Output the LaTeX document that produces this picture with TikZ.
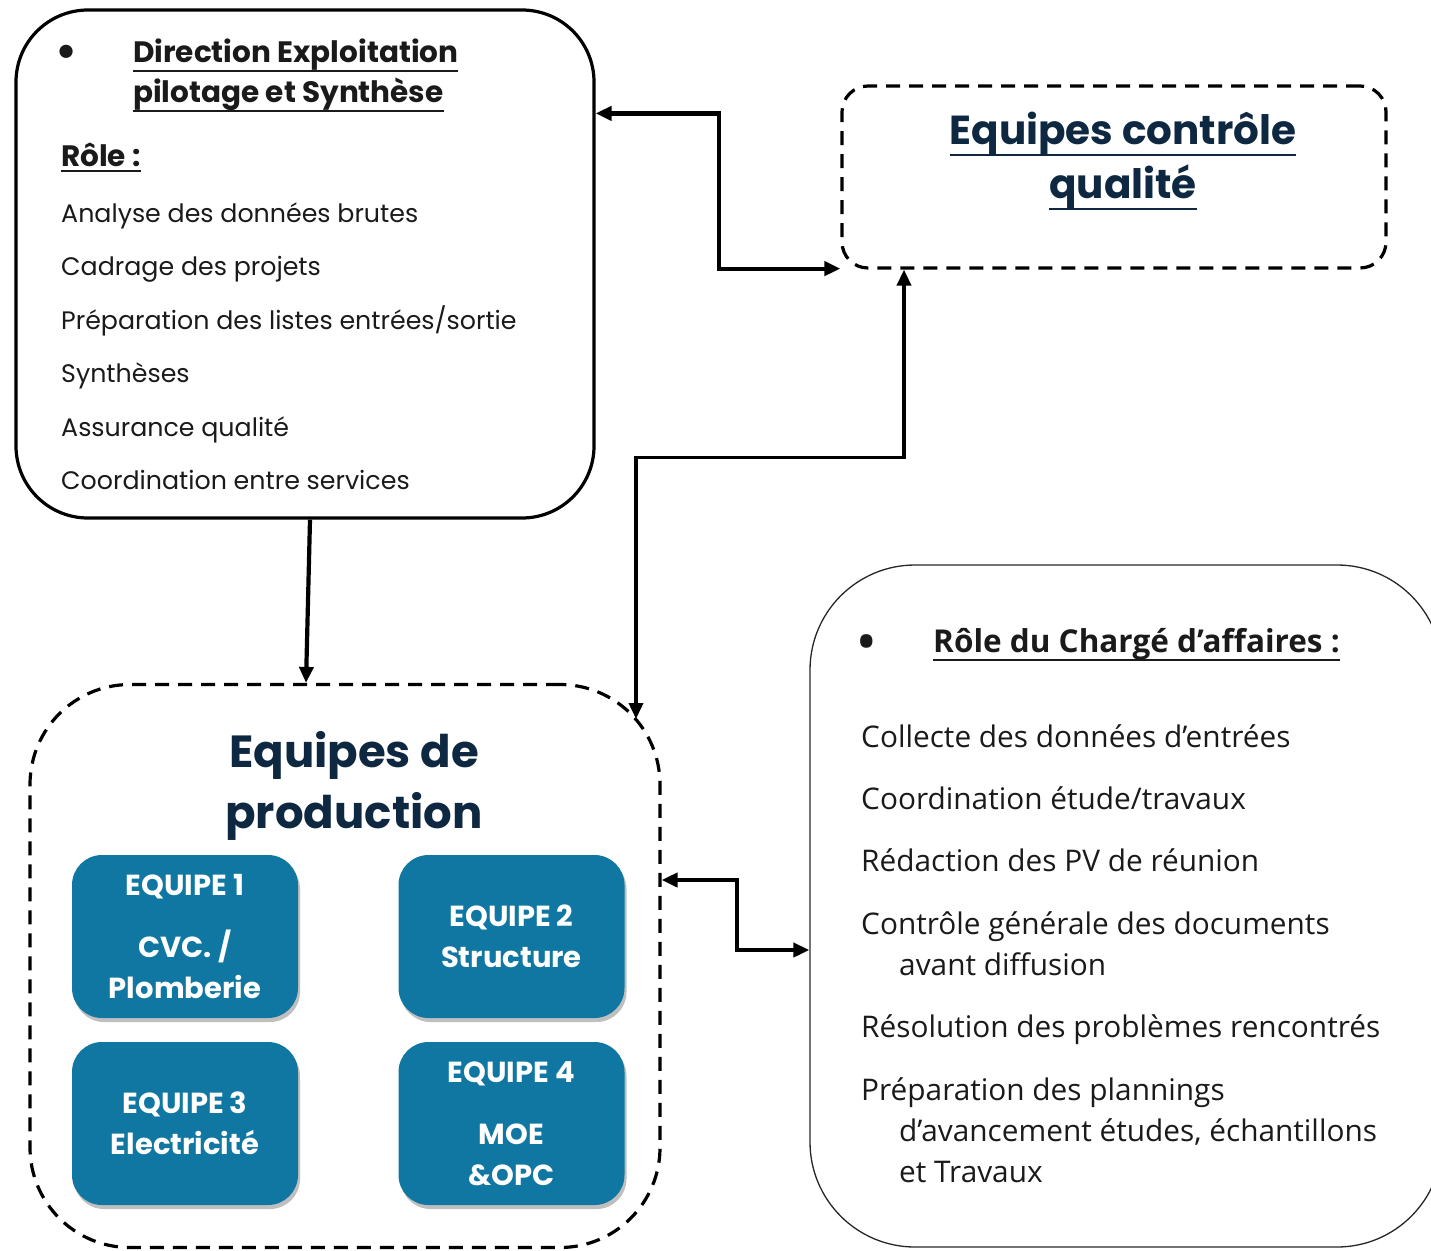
\documentclass[tikz,border=0pt]{standalone}
\usepackage{fontspec}
\setmainfont{Poppins}
\newfontfamily\rfont{Open Sans}
\newsavebox{\ulbox}
\newcommand{\myul}[2][8pt]{\sbox{\ulbox}{#2}\leavevmode\rlap{\usebox{\ulbox}}\rule[-#1]{\wd\ulbox}{2.4pt}}
\usetikzlibrary{arrows.meta,shadows,calc}
\definecolor{navy}{HTML}{0E2841}
\definecolor{teamblue}{HTML}{0F77A1}
\definecolor{ink}{HTML}{1A1A1A}
\begin{document}
\begin{tikzpicture}[x=1pt,y=-1pt,
  frame/.style={draw=black, line width=3.2pt, inner sep=0pt},
  dashframe/.style={frame, dash pattern=on 14pt off 9pt},
  thinframe/.style={draw=black!85, line width=1.3pt, inner sep=0pt},
  team/.style={fill=teamblue, rounded corners=30pt, minimum width=226pt, minimum height=163pt,
     inner sep=0pt, text=white, align=center, font=\bfseries\fontsize{29}{41}\selectfont,
     drop shadow={shadow xshift=2pt, shadow yshift=-4pt, opacity=0.25, fill=black}},
  ltext/.style={anchor=base west, inner sep=0pt, text=ink, font=\fontsize{25.3}{30}\selectfont},
  lhead/.style={anchor=base west, inner sep=0pt, text=ink, font=\bfseries\fontsize{29.5}{40}\selectfont},
  rtext/.style={anchor=base west, inner sep=0pt, text=ink, font=\rfont\fontsize{29.8}{34}\selectfont},
  rhead/.style={anchor=base west, inner sep=0pt, text=ink, font=\rfont\bfseries\fontsize{31.5}{36}\selectfont},
  navytitle/.style={anchor=base, inner sep=0pt, text=navy, font=\bfseries\fontsize{40.5}{54}\selectfont},
  conn/.style={draw=black, line width=4.2pt},
  tip/.tip={Triangle[length=16pt,width=14pt]}
]
\useasboundingbox (0,0) rectangle (1431,1250);

% ---------- boxes ----------
\node[frame, rounded corners=72pt, minimum width=578pt, minimum height=508pt] (dir) at (305,264) {};
\node[dashframe, rounded corners=26pt, minimum width=544pt, minimum height=182pt] (qual) at (1114,177) {};
\node[dashframe, rounded corners=100pt, minimum width=630pt, minimum height=563pt] (prod) at (345,966) {};
\node[thinframe, rounded corners=105pt, minimum width=632pt, minimum height=682pt] (charge) at (1126,906) {};
\coordinate (prodcorner) at (636,719);

% ---------- team boxes ----------
\node[team] (e1) at (185,936.5) {EQUIPE 1\\[21pt]CVC. /\\Plomberie};
\node[team] (e2) at (511.5,936.5) {EQUIPE 2\\Structure};
\node[team] (e3) at (185,1123.5) {EQUIPE 3\\Electricité};
\node[team] (e4) at (511.5,1123.5) {EQUIPE 4\\[21pt]MOE\\\&OPC};

% ---------- direction text ----------
\node[anchor=base, inner sep=0pt, text=ink, font=\bfseries\fontsize{44}{40}\selectfont] (dbul) at (67,66) {•};
\node[lhead] (dt1) at (133,62) {\myul[10pt]{Direction Exploitation}};
\node[lhead] (dt2) at (133,102) {\myul[10pt]{pilotage et Synthèse}};
\node[lhead] (drole) at (61,166) {\myul[6pt]{Rôle :}};
\node[ltext] (d1) at (61,222) {Analyse des données brutes};
\node[ltext] (d2) at (61,275) {Cadrage des projets};
\node[ltext] (d3) at (61,329) {Préparation des listes entrées/sortie};
\node[ltext] (d4) at (61,382) {Synthèses};
\node[ltext] (d5) at (61,436) {Assurance qualité};
\node[ltext] (d6) at (61,489) {Coordination entre services};

% ---------- quality text ----------
\node[navytitle] (q1) at (1123,144) {\myul[12pt]{Equipes contrôle}};
\node[navytitle] (q2) at (1123,198) {\myul[12pt]{qualité}};

% ---------- production text ----------
\node[navytitle, font=\bfseries\fontsize{45}{60}\selectfont] (p1) at (354,767) {Equipes de};
\node[navytitle, font=\bfseries\fontsize{45}{60}\selectfont] (p2) at (354,828) {production};

% ---------- charge text ----------
\node[anchor=base, inner sep=0pt, text=ink, font=\rfont\bfseries\fontsize{44}{36}\selectfont] (cbul) at (867,657) {•};
\node[rhead] (ct) at (933,652) {\myul[9pt]{Rôle du Chargé d’affaires :}};
\node[rtext] (c1) at (861,747) {Collecte des données d’entrées};
\node[rtext] (c2) at (861,809) {Coordination étude/travaux};
\node[rtext] (c3) at (861,871) {Rédaction des PV de réunion};
\node[rtext] (c4) at (861,934) {Contrôle générale des documents};
\node[rtext] (c4b) at (899,975) {avant diffusion};
\node[rtext] (c5) at (861,1037) {Résolution des problèmes rencontrés};
\node[rtext] (c6) at (861,1100) {Préparation des plannings};
\node[rtext] (c6b) at (899,1141) {d’avancement études, échantillons};
\node[rtext] (c6c) at (899,1182) {et Travaux};

% ---------- connectors ----------
\draw[conn, -tip] ([xshift=5pt]dir.south) -- ([xshift=-39pt]prod.north);
\draw[conn, tip-tip] ([yshift=-105pt]dir.north east) -- ++(123,0) |- ([yshift=1pt]qual.south west);
\draw[conn, line width=3.6pt, tip-tip] ([xshift=-210pt]qual.south) -- ++(0,188) -| (prodcorner);
\draw[conn, tip-tip] ([yshift=86pt]prod.east) -- ++(75,0) |- ([yshift=-44pt]charge.west);
\end{tikzpicture}
\end{document}
